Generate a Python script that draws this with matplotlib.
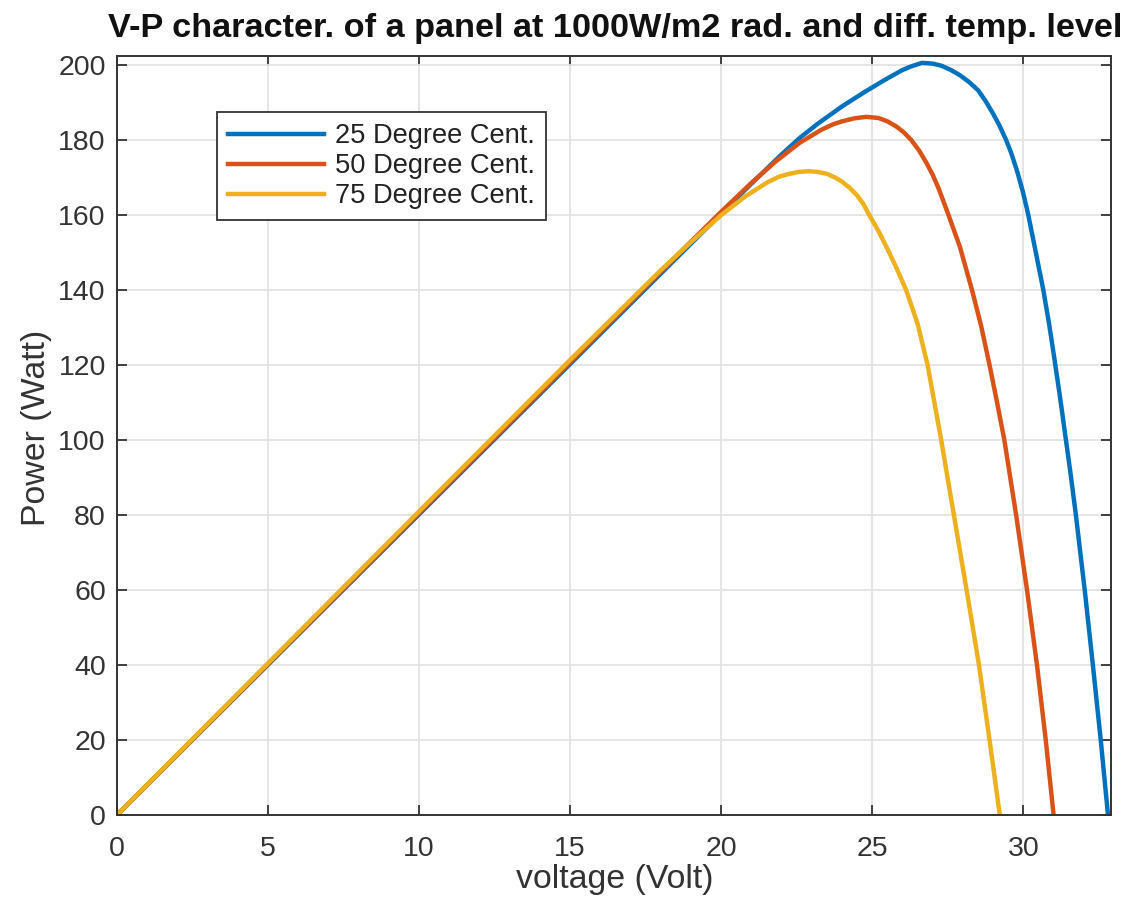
# V-P characteristic of a PV panel at 1000 W/m2 for three cell temperatures

import matplotlib
matplotlib.use("Agg")
import matplotlib.pyplot as plt

# values
v_25 = [0, 5, 10, 15, 18, 20, 21, 22, 22.6, 23.2, 24, 24.7, 25.4, 26.0, 26.3, 26.65,
        27.0, 27.3, 27.6, 27.9, 28.2, 28.5, 28.75, 29.0, 29.2, 29.43, 29.6, 29.8,
        29.98, 30.15, 30.4, 30.66, 30.85, 31.03, 31.22, 31.4, 31.57, 31.73, 32.03,
        32.3, 32.56, 32.8]
p_25 = [0, 40.1, 80.2, 120.3, 144.4, 160.4, 168.4, 176.2, 180.6, 184.4, 189.0, 192.6,
        196.0, 198.7, 199.7, 200.6, 200.4, 199.8, 198.7, 197.3, 195.5, 193.3, 190.4,
        187.0, 184.0, 180.0, 176.5, 171.5, 166.3, 160.5, 150.5, 140.0, 131.0, 121.5,
        111.0, 100.5, 90.5, 80.5, 60.0, 40.0, 20.0, 0]

v_50 = [0, 5, 10, 15, 18, 20, 21, 21.8, 22.6, 23.3, 23.7, 24.0, 24.4, 24.8, 25.2,
        25.5, 25.8, 26.05, 26.29, 26.55, 26.8, 27.0, 27.2, 27.5, 27.9, 28.3, 28.6,
        28.88, 29.13, 29.37, 29.76, 30.12, 30.45, 30.74, 31.0]
p_50 = [0, 40.3, 80.6, 120.8, 145.0, 160.9, 168.6, 174.3, 179.3, 182.7, 184.2, 185.0,
        185.8, 186.2, 185.9, 185.0, 183.6, 182.0, 180.0, 177.2, 173.8, 170.7, 167.0,
        160.5, 151.5, 140.0, 130.5, 120.0, 110.0, 100.0, 80.0, 60.0, 40.0, 20.0, 0]

v_75 = [0, 5, 10, 15, 18, 19, 20, 20.8, 21.5, 21.9, 22.2, 22.55, 22.9, 23.2, 23.5,
        23.8, 24.0, 24.25, 24.5, 24.7, 24.9, 25.2, 25.5, 25.8, 26.12, 26.5, 26.83,
        27.28, 27.7, 28.12, 28.53, 28.88, 29.22]
p_75 = [0, 40.5, 81.0, 121.4, 145.3, 152.8, 160.0, 165.0, 168.6, 170.2, 170.9, 171.5,
        171.7, 171.5, 171.0, 169.9, 168.9, 167.3, 165.2, 163.0, 160.0, 155.8, 151.0,
        145.9, 140.0, 131.0, 120.0, 100.0, 80.0, 60.0, 40.0, 20.0, 0]

labels = ["25 Degree Cent.", "50 Degree Cent.", "75 Degree Cent."]
colors = ["#0072BD", "#D95319", "#EDB120"]
x_ticks = [0, 5, 10, 15, 20, 25, 30]
y_ticks = [0, 20, 40, 60, 80, 100, 120, 140, 160, 180, 200]

plt.rcParams["font.family"] = ["Liberation Sans", "DejaVu Sans"]

fig = plt.figure(figsize=(11.3, 9.05), dpi=100)
ax = fig.add_axes([0.1035, 0.0994, 0.8797, 0.8382])

for v, p, lab, c in zip([v_25, v_50, v_75], [p_25, p_50, p_75], labels, colors):
    ax.plot(v, p, color=c, lw=3.2, label=lab, solid_joinstyle="round")

ax.set_xlim(0, 32.9)
ax.set_ylim(0, 202.3)
ax.set_xticks(x_ticks)
ax.set_yticks(y_ticks)
ax.grid(True, color="#e3e3e3", lw=1.3)
ax.set_axisbelow(True)

ax.tick_params(direction="in", length=7, width=1.3, colors="#333333",
               labelsize=20.5, top=True, right=True)
ax.tick_params(axis="x", pad=15)
ax.tick_params(axis="y", pad=8)
for s in ax.spines.values():
    s.set_color("#333333")
    s.set_linewidth(1.4)

ax.set_xlabel("voltage (Volt)", fontsize=24.4, color="#333333")
ax.set_ylabel("Power (Watt)", fontsize=24.4, color="#333333")
ax.xaxis.set_label_coords(0.501, -0.064)
ax.yaxis.set_label_coords(-0.065, 0.51)

fig.text(615 / 1130, 1 - 29 / 905,
         "V-P character. of a panel at 1000W/m2 rad. and diff. temp. level",
         family=["Liberation Sans Narrow", "Liberation Sans"], fontweight="bold",
         fontsize=24.7, ha="center", va="center", color="#111111")

leg = ax.legend(loc="upper left", bbox_to_anchor=(217 / 1130, 1 - 112 / 905),
                bbox_transform=fig.transFigure, borderaxespad=0, fontsize=19.6,
                handlelength=3.5, labelspacing=0.14, handletextpad=0.4,
                fancybox=False, framealpha=1, edgecolor="#333333", borderpad=0.42)
leg.get_frame().set_linewidth(1.3)
for t in leg.get_texts():
    t.set_color("#222222")

fig.savefig("out.png", dpi=100)
